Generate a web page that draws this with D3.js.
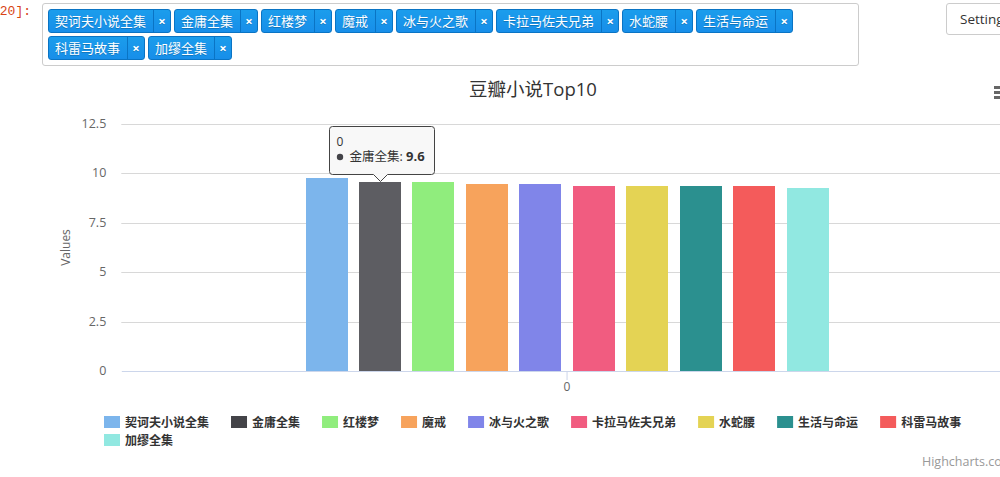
<!DOCTYPE html>
<html>
<head>
<meta charset="utf-8">
<script src="https://d3js.org/d3.v7.min.js"></script>
<style>
html, body { margin: 0; padding: 0; width: 1000px; height: 477px; overflow: hidden; background: #fff; }
body { position: relative; font-family: "Open Sans", "Noto Sans CJK SC", sans-serif; }
#prompt { position: absolute; right: 969px; top: 4px; font: 13px/16px "Liberation Mono", monospace; color: #d84315; white-space: nowrap; }
#picker { position: absolute; left: 42px; top: 3px; border: 1px solid #ccc; border-radius: 3px;
          padding: 5px 0 0 5px; box-sizing: content-box; display: flex; flex-wrap: wrap; align-content: flex-start; width: 810px; height: 56px; }
.tag { height: 24px; margin: 0 3px 3px 0; display: flex; box-sizing: border-box; border: 1px solid #0a74c4; border-radius: 3px;
       background: linear-gradient(#1b9dec, #178ee9); color: #fff; font-size: 13px; line-height: 22px; text-shadow: 0 1px 0 rgba(0,51,83,.3); }
.tag .name { padding: 0 7px 0 6px; }
.tag .rm { width: 16px; text-align: center; border-left: 1px solid #0a74c4; font-weight: bold; font-size: 13px; }
#settings { position: absolute; left: 946px; top: 3px; width: 90px; height: 32px; box-sizing: border-box; border: 1px solid #ccc; border-radius: 3px;
            font-size: 13.5px; line-height: 30px; padding-left: 13px; color: #333; }
svg { position: absolute; left: 0; top: 0; }
svg text { font-family: "Open Sans", "Noto Sans CJK SC", sans-serif; }
</style>
</head>
<body>
<div id="prompt">Out[120]:</div>
<div id="picker"></div>
<div id="settings">Settings</div>
<svg id="chart" width="1000" height="477"></svg>
<script>
const novels = ["契诃夫小说全集", "金庸全集", "红楼梦", "魔戒", "冰与火之歌", "卡拉马佐夫兄弟", "水蛇腰", "生活与命运", "科雷马故事", "加缪全集"];
const ratings = [9.8, 9.6, 9.6, 9.5, 9.5, 9.4, 9.4, 9.4, 9.4, 9.3];
const colors = ["#7cb5ec", "#434348", "#90ed7d", "#f7a35c", "#8085e9", "#f15c80", "#e4d354", "#2b908f", "#f45b5b", "#91e8e1"];
const yTicks = [0, 2.5, 5, 7.5, 10, 12.5];
const xCategories = ["0"];
const hovered = 1;

// the tag picker above the chart
const tags = d3.select("#picker").selectAll(".tag")
    .data(novels)
    .enter().append("div")
    .attr("class", "tag");
tags.append("span").attr("class", "name").text(d => d);
tags.append("span").attr("class", "rm").text("×");

const svg = d3.select("#chart");

let margins = {l: 121.3, r: 1012.8, t: 124, b: 371};

let y = d3.scaleLinear().domain([0, 12.5]).range([margins.b, margins.t]);
let x = d3.scaleBand().domain(xCategories).range([margins.l, margins.r]).paddingOuter(0.334);
let xInner = d3.scaleBand().domain(novels).range([0, x.bandwidth()]).paddingInner(0.214).paddingOuter(0.107);

// highcharts snaps column edges to whole pixels
const barTop = (v) => Math.round(y(v) + 0.5);
const barLeft = (name) => Math.round(x("0") + xInner(name));

// hover state: every channel lifted by 10%
const brighten = (c) => {
    let rgb = d3.rgb(c);
    return d3.rgb(rgb.r + 25.5, rgb.g + 25.5, rgb.b + 25.5);
};

svg.append("text")
    .attr("x", 533)
    .attr("y", 96)
    .attr("text-anchor", "middle")
    .attr("font-size", 18.5)
    .attr("fill", "#333")
    .text("豆瓣小说Top10");

// hamburger menu, cut off by the window edge
[86, 91, 96].forEach(function(top) {
    svg.append("rect").attr("x", 994).attr("y", top).attr("width", 12).attr("height", 3).attr("fill", "#666");
});

// y axis with gridlines
let yAxis = svg.append("g")
    .attr("transform", `translate(${margins.l},0)`)
    .call(d3.axisLeft(y).tickValues(yTicks).tickFormat(d => d).tickSize(0).tickPadding(15));
yAxis.select(".domain").remove();
yAxis.selectAll(".tick").attr("transform", d => `translate(0,${Math.round(y(d)) + 0.5})`);
yAxis.selectAll("text").attr("font-size", 12.5).attr("fill", "#666").attr("dy", "0.245em")
    .attr("font-family", "Open Sans, Noto Sans CJK SC, sans-serif");
yAxis.selectAll(".tick line")
    .attr("x2", margins.r - margins.l)
    .attr("stroke", "#d8d8d8");
yAxis.selectAll(".tick").filter(d => d === 0).select("line").remove();

svg.append("text")
    .attr("transform", `translate(70,${(margins.t + margins.b) / 2}) rotate(-90)`)
    .attr("text-anchor", "middle")
    .attr("font-size", 12)
    .attr("fill", "#666")
    .text("Values");

// bars
svg.append("g")
    .selectAll("rect")
    .data(novels)
    .enter().append("rect")
    .attr("x", d => barLeft(d))
    .attr("y", (d, i) => barTop(ratings[i]))
    .attr("width", Math.round(xInner.bandwidth()))
    .attr("height", (d, i) => margins.b - barTop(ratings[i]))
    .attr("fill", (d, i) => i === hovered ? brighten(colors[i]) : colors[i]);

// x axis
let xAxis = svg.append("g")
    .attr("transform", `translate(0,${margins.b})`)
    .call(d3.axisBottom(x).tickSize(9).tickPadding(2).tickSizeOuter(0));
xAxis.select(".domain").attr("stroke", "#ccd6eb");
xAxis.selectAll(".tick line").attr("stroke", "#ccd6eb");
xAxis.selectAll("text").attr("font-size", 12).attr("fill", "#666")
    .attr("font-family", "Open Sans, Noto Sans CJK SC, sans-serif");

// legend, wraps the way highcharts does
let legendX = 104, legendY = 416;
novels.forEach(function(name, i) {
    let item = svg.append("g");
    item.append("rect").attr("width", 16).attr("height", 12).attr("fill", colors[i]);
    let label = item.append("text")
        .attr("x", 21)
        .attr("y", 11)
        .attr("font-size", 12)
        .attr("font-weight", "bold")
        .attr("fill", "#333")
        .text(name);
    let itemWidth = 21 + label.node().getComputedTextLength() + 22;
    if (legendX + itemWidth > 985) {
        legendX = 104;
        legendY += 18;
    }
    item.attr("transform", `translate(${legendX},${legendY})`);
    legendX += itemWidth;
});

svg.append("text")
    .attr("x", 922)
    .attr("y", 466)
    .attr("font-size", 12.5)
    .attr("fill", "#999")
    .text("Highcharts.com");

// tooltip pinned on the hovered bar
let tipX = barLeft(novels[hovered]) + Math.round(xInner.bandwidth()) / 2 + 0.5;
let tipBottom = barTop(ratings[hovered]) - 0.5;
let tip = svg.append("g").attr("transform", `translate(${tipX},${tipBottom})`);
tip.append("path")
    .attr("d", "M-51,-52 a3,3 0 0 1 3,-3 H51 a3,3 0 0 1 3,3 V-10 a3,3 0 0 1 -3,3 H7 L0,0 L-7,-7 H-48 a3,3 0 0 1 -3,-3 Z")
    .attr("fill", "rgba(248,248,248,0.95)")
    .attr("stroke", "#444")
    .attr("stroke-width", 1);
tip.append("text").attr("x", -44).attr("y", -36).attr("font-size", 12).attr("fill", "#333").text(xCategories[0]);
tip.append("circle").attr("cx", -40.5).attr("cy", -24.5).attr("r", 3.2).attr("fill", colors[hovered]);
let tipLine = tip.append("text").attr("x", -31).attr("y", -20.5).attr("font-size", 12.5).attr("fill", "#333");
tipLine.append("tspan").text(novels[hovered] + ": ");
tipLine.append("tspan").attr("font-weight", "bold").attr("font-size", 13).text(ratings[hovered]);
</script>
</body>
</html>
